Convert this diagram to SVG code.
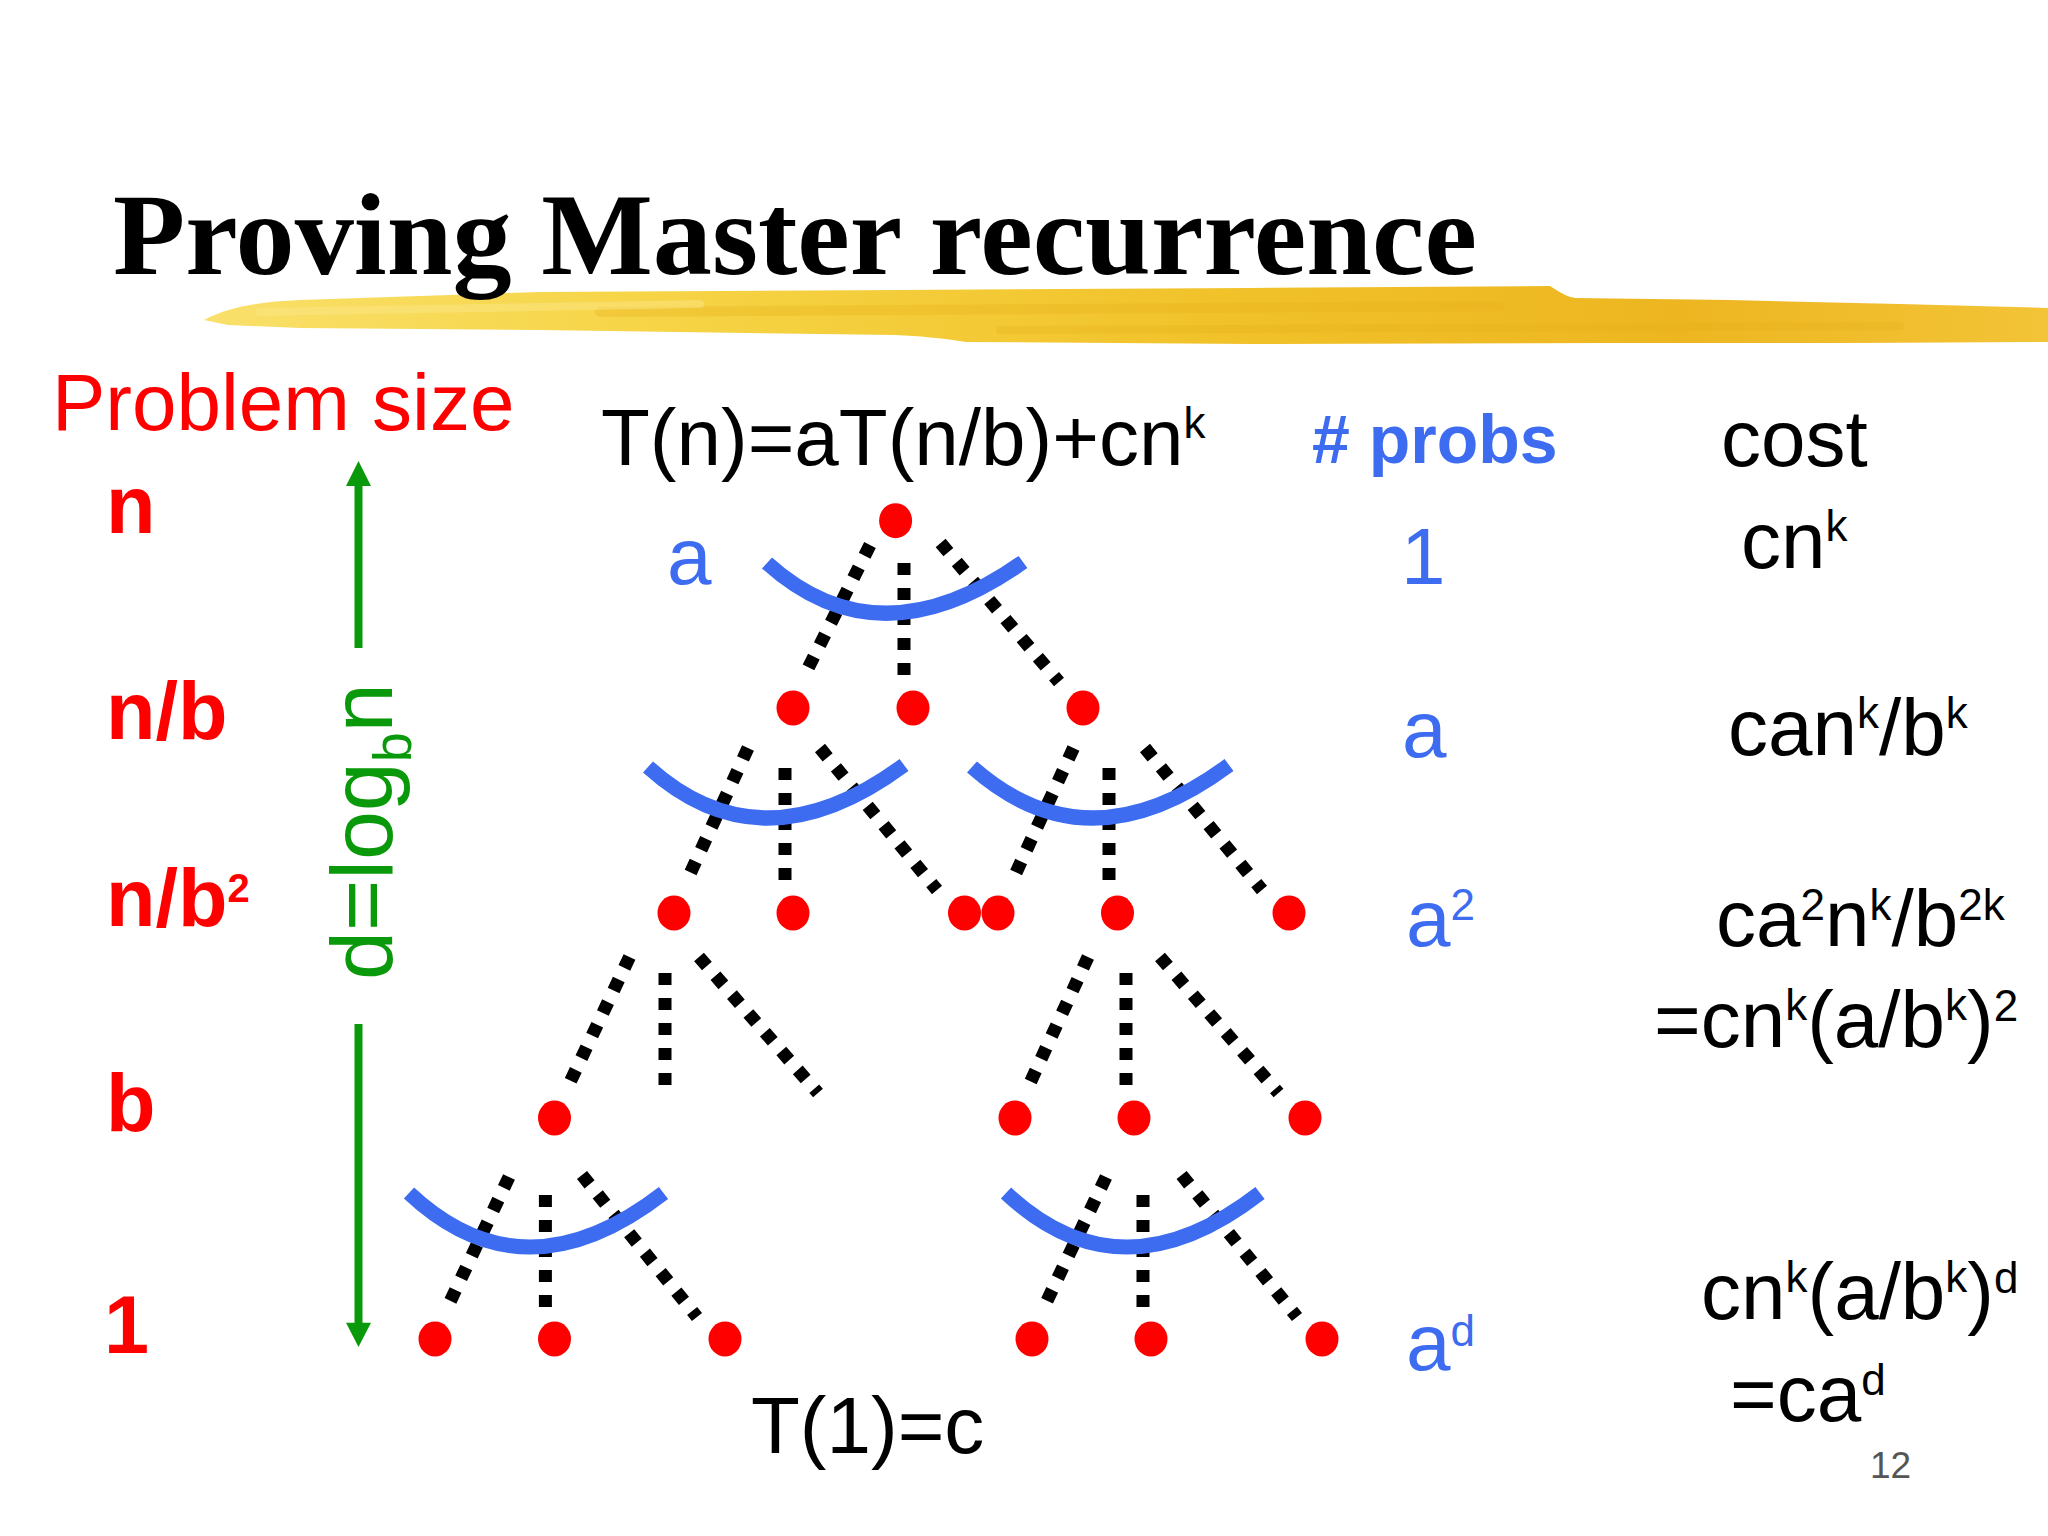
<svg xmlns="http://www.w3.org/2000/svg" width="2048" height="1536" viewBox="0 0 2048 1536">
<defs>
<linearGradient id="brush" x1="204" y1="0" x2="2048" y2="0" gradientUnits="userSpaceOnUse">
<stop offset="0" stop-color="#F9E06A"/>
<stop offset="0.25" stop-color="#F6D445"/>
<stop offset="0.55" stop-color="#F1C22A"/>
<stop offset="0.8" stop-color="#EDB621"/>
<stop offset="1" stop-color="#F3C437"/>
</linearGradient>
<style>
.sans{font-family:"Liberation Sans",Arial,sans-serif}
.blk{fill:#000;font-size:80px}
.blu{fill:#3D6CF0;font-size:80px}
.red{fill:#FF0000;font-weight:bold;font-size:81px}
.dash{stroke:#000;stroke-width:13;stroke-dasharray:12 13;fill:none}
.arc{stroke:#3D6CF0;stroke-width:15;fill:none}
.node{fill:#FF0000}
.grn{stroke:#0A990A;stroke-width:8}
.streak{fill:none;stroke-linecap:round}
</style>
</defs>
<rect width="2048" height="1536" fill="#fff"/>

<g id="title">
<path d="M204,320 C230,306 260,302 300,300 L540,292 L900,290 L1250,288 L1550,286 C1560,292 1565,296 1575,298 L1730,300 L1900,304 L2048,308 L2048,342 L1850,343 L1610,343 L1250,344 L966,342 C940,338 920,336 895,335 L540,330 L300,328 L228,325 Z" fill="url(#brush)"/>
<path class="streak" d="M600,312 L1500,306" stroke="#E8B21C" stroke-width="10" opacity="0.35"/>
<path class="streak" d="M1000,330 L1900,326" stroke="#E5AE1A" stroke-width="8" opacity="0.3"/>
<path class="streak" d="M260,312 L700,304" stroke="#FBE586" stroke-width="8" opacity="0.5"/>
<text x="113" y="274" font-family="'Liberation Serif','Times New Roman',serif" font-weight="bold" font-size="116" textLength="1364" lengthAdjust="spacingAndGlyphs" fill="#000">Proving Master recurrence</text>
</g>

<g id="left-labels" class="sans">
<text x="52" y="430" font-size="80" fill="#FF0000">Problem size</text>
<text class="red" x="106" y="533">n</text>
<text class="red" x="106" y="739">n/b</text>
<text class="red" x="106" y="926">n/b<tspan font-size="40" dy="-24">2</tspan></text>
<text class="red" x="106" y="1131">b</text>
<text class="red" x="104" y="1353">1</text>
</g>

<g id="depth-arrow">
<line class="grn" x1="358.5" y1="484" x2="358.5" y2="648"/>
<polygon points="358.5,461 346,486 371,486" fill="#0A990A"/>
<line class="grn" x1="358.5" y1="1024" x2="358.5" y2="1325"/>
<polygon points="346,1322.7 371,1322.7 358.5,1347" fill="#0A990A"/>
<text class="sans" transform="translate(392,980) rotate(-90)" font-size="88" fill="#0A990A">d=log<tspan font-size="54" dy="19">b</tspan><tspan dy="-19">n</tspan></text>
</g>

<g id="header" class="sans">
<text class="blk" x="601" y="465">T(n)=aT(n/b)+cn<tspan font-size="44" dy="-27">k</tspan></text>
<text x="1312" y="463" font-size="68" font-weight="bold" fill="#3D6CF0"># probs</text>
<text class="blk" x="1721" y="466">cost</text>
</g>

<g id="connectors">
<line class="dash" x1="870" y1="545" x2="805.7" y2="673"/>
<line class="dash" x1="904" y1="563" x2="904" y2="678"/>
<line class="dash" x1="940.6" y1="543" x2="1059" y2="682"/>
<line class="dash" x1="748" y1="748" x2="688.5" y2="877"/>
<line class="dash" x1="785" y1="768" x2="785" y2="883"/>
<line class="dash" x1="820" y1="748" x2="937" y2="890"/>
<line class="dash" x1="1073.5" y1="748" x2="1014" y2="877"/>
<line class="dash" x1="1109" y1="768" x2="1109" y2="883"/>
<line class="dash" x1="1145" y1="748" x2="1262" y2="890"/>
<line class="dash" x1="629.5" y1="957" x2="569.6" y2="1083"/>
<line class="dash" x1="665" y1="973" x2="665" y2="1087"/>
<line class="dash" x1="699" y1="957" x2="818" y2="1093"/>
<line class="dash" x1="1088" y1="957" x2="1030" y2="1083"/>
<line class="dash" x1="1126" y1="973" x2="1126" y2="1087"/>
<line class="dash" x1="1160" y1="957" x2="1278.5" y2="1093"/>
<line class="dash" x1="509" y1="1177" x2="448.5" y2="1305"/>
<line class="dash" x1="545.4" y1="1195" x2="545.4" y2="1310"/>
<line class="dash" x1="582" y1="1175" x2="697" y2="1317"/>
<line class="dash" x1="1106" y1="1177" x2="1045" y2="1305"/>
<line class="dash" x1="1143" y1="1195" x2="1143" y2="1310"/>
<line class="dash" x1="1181.6" y1="1175" x2="1297" y2="1317"/>
</g>

<g id="branch-arcs">
<path class="arc" d="M767,563 Q879,664 1023,562"/>
<path class="arc" d="M648,767 Q762,870 904,765"/>
<path class="arc" d="M972,767 Q1088,870 1229,765"/>
<path class="arc" d="M409,1193 Q524,1301 663.5,1193"/>
<path class="arc" d="M1006,1193 Q1121,1301 1260,1193"/>
<text class="sans blu" x="667" y="584">a</text>
</g>

<g id="nodes">
<g id="level0"><ellipse class="node" cx="895.6" cy="520.7" rx="16.5" ry="17.5"/></g>
<g id="level1">
<ellipse class="node" cx="793" cy="708" rx="16.5" ry="17.5"/>
<ellipse class="node" cx="913" cy="708" rx="16.5" ry="17.5"/>
<ellipse class="node" cx="1083" cy="708" rx="16.5" ry="17.5"/>
</g>
<g id="level2">
<ellipse class="node" cx="674" cy="913" rx="16.5" ry="17.5"/>
<ellipse class="node" cx="793" cy="913" rx="16.5" ry="17.5"/>
<ellipse class="node" cx="964.5" cy="913" rx="16.5" ry="17.5"/>
<ellipse class="node" cx="998" cy="913" rx="16.5" ry="17.5"/>
<ellipse class="node" cx="1117.5" cy="913" rx="16.5" ry="17.5"/>
<ellipse class="node" cx="1289" cy="913" rx="16.5" ry="17.5"/>
</g>
<g id="level3">
<ellipse class="node" cx="554.5" cy="1118" rx="16.5" ry="17.5"/>
<ellipse class="node" cx="1015" cy="1118" rx="16.5" ry="17.5"/>
<ellipse class="node" cx="1134" cy="1118" rx="16.5" ry="17.5"/>
<ellipse class="node" cx="1305" cy="1118" rx="16.5" ry="17.5"/>
</g>
<g id="level4">
<ellipse class="node" cx="435" cy="1339" rx="16.5" ry="17.5"/>
<ellipse class="node" cx="554.5" cy="1339" rx="16.5" ry="17.5"/>
<ellipse class="node" cx="725" cy="1339" rx="16.5" ry="17.5"/>
<ellipse class="node" cx="1032" cy="1339" rx="16.5" ry="17.5"/>
<ellipse class="node" cx="1151" cy="1339" rx="16.5" ry="17.5"/>
<ellipse class="node" cx="1322" cy="1339" rx="16.5" ry="17.5"/>
</g>
</g>

<g id="probs-column" class="sans">
<text class="blu" x="1401" y="584">1</text>
<text class="blu" x="1402" y="757">a</text>
<text class="blu" x="1406" y="946">a<tspan font-size="44" dy="-26">2</tspan></text>
<text class="blu" x="1406" y="1370">a<tspan font-size="44" dy="-24">d</tspan></text>
</g>

<g id="cost-column" class="sans">
<text class="blk" x="1741" y="568">cn<tspan font-size="44" dy="-27">k</tspan></text>
<text class="blk" x="1728" y="755">can<tspan font-size="44" dy="-27">k</tspan><tspan dy="27">/b</tspan><tspan font-size="44" dy="-27">k</tspan></text>
<text class="blk" x="1716" y="946">ca<tspan font-size="44" dy="-26">2</tspan><tspan dy="26">n</tspan><tspan font-size="44" dy="-26">k</tspan><tspan dy="26">/b</tspan><tspan font-size="44" dy="-26">2k</tspan></text>
<text class="blk" x="1654" y="1047">=cn<tspan font-size="44" dy="-27">k</tspan><tspan dy="27">(a/b</tspan><tspan font-size="44" dy="-27">k</tspan><tspan dy="27">)</tspan><tspan font-size="44" dy="-26">2</tspan></text>
<text class="blk" x="1701" y="1319">cn<tspan font-size="44" dy="-27">k</tspan><tspan dy="27">(a/b</tspan><tspan font-size="44" dy="-27">k</tspan><tspan dy="27">)</tspan><tspan font-size="44" dy="-26">d</tspan></text>
<text class="blk" x="1730" y="1421">=ca<tspan font-size="44" dy="-26">d</tspan></text>
</g>

<g id="footer" class="sans">
<text class="blk" x="751" y="1453">T(1)=c</text>
<text x="1870" y="1478" font-size="37" fill="#555">12</text>
</g>
</svg>
